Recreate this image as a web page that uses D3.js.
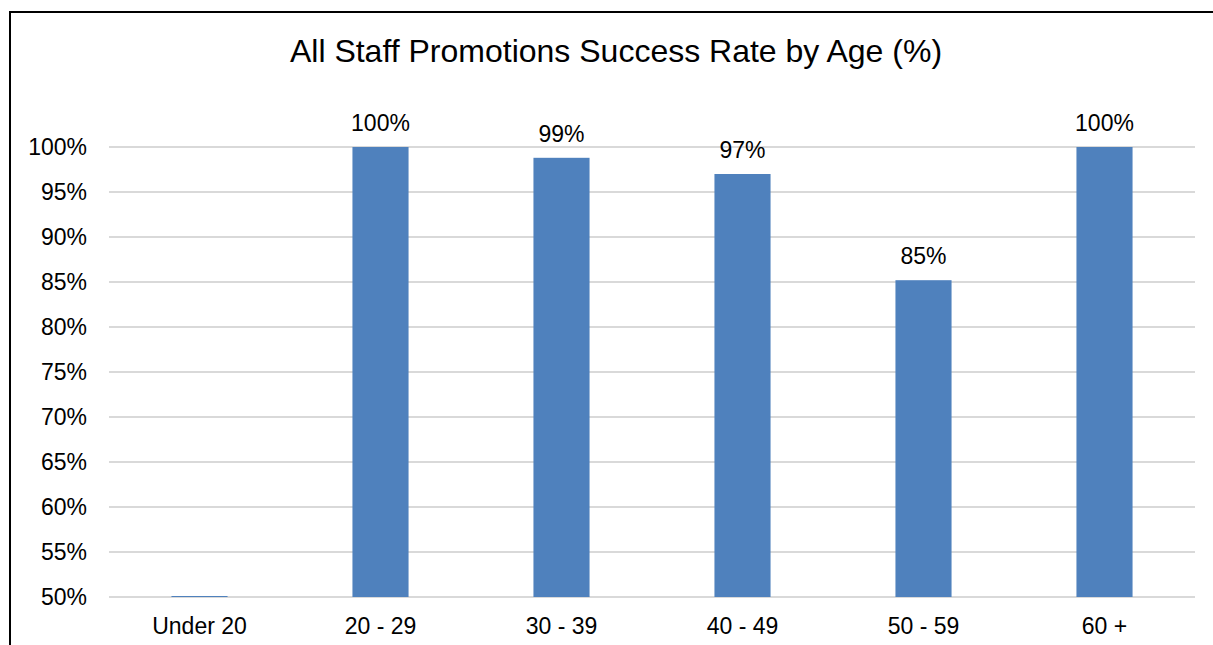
<!DOCTYPE html>
<html>
<head>
<meta charset="utf-8">
<script src="https://cdn.jsdelivr.net/npm/d3@7"></script>
<style>
html,body{margin:0;padding:0;background:#fff;}
svg{display:block;font-family:"Liberation Sans",Arial,sans-serif;}
</style>
</head>
<body>
<svg id="chart" width="1213" height="645"></svg>
<script>
const title = "All Staff Promotions Success Rate by Age (%)";
const categories = ["Under 20", "20 - 29", "30 - 39", "40 - 49", "50 - 59", "60 +"];
const values = [0, 100, 98.8, 97.0, 85.2, 100];
const labels = [null, "100%", "99%", "97%", "85%", "100%"];
const yTicks = [50, 55, 60, 65, 70, 75, 80, 85, 90, 95, 100];

const svg = d3.select("#chart");
const W = 1213, H = 645;
svg.append("rect").attr("width", W).attr("height", H).attr("fill", "#fff");
// frame (cropped)
svg.append("rect").attr("x", 10).attr("y", 12).attr("width", 1400).attr("height", 1000)
  .attr("fill", "none").attr("stroke", "#000").attr("stroke-width", 2);

const plot = {left: 109, right: 1195, top: 147, bottom: 597};
const x = d3.scaleBand().domain(categories).range([plot.left, plot.right])
  .paddingInner(0.69).paddingOuter(0.345);
const y = d3.scaleLinear().domain([50, 100]).range([plot.bottom, plot.top]).clamp(true);

svg.append("text").attr("x", 616).attr("y", 62).attr("text-anchor", "middle")
  .attr("font-size", 32).attr("fill", "#000").text(title);

// gridlines
svg.append("g").selectAll("line").data(yTicks).join("line")
  .attr("x1", plot.left).attr("x2", plot.right)
  .attr("y1", d => y(d)).attr("y2", d => y(d))
  .attr("stroke", "#d9d9d9").attr("stroke-width", 2);

// y labels
svg.append("g").selectAll("text").data(yTicks).join("text")
  .attr("x", 87).attr("y", d => y(d)).attr("dy", "0.35em")
  .attr("text-anchor", "end").attr("font-size", 23).attr("fill", "#000")
  .text(d => d + "%");

// bars
const data = categories.map((c, i) => ({c, v: values[i], l: labels[i]}));
svg.append("g").selectAll("rect").data(data).join("rect")
  .attr("x", d => x(d.c)).attr("width", x.bandwidth())
  .attr("y", d => Math.min(y(d.v), plot.bottom - 1))
  .attr("height", d => Math.max(1, plot.bottom - y(d.v)))
  .attr("fill", "#4f81bd");

// data labels
svg.append("g").selectAll("text").data(data.filter(d => d.l)).join("text")
  .attr("x", d => x(d.c) + x.bandwidth() / 2).attr("y", d => y(d.v) - 16)
  .attr("text-anchor", "middle").attr("font-size", 23).attr("fill", "#000")
  .text(d => d.l);

// x labels
svg.append("g").selectAll("text").data(categories).join("text")
  .attr("x", d => x(d) + x.bandwidth() / 2).attr("y", 634)
  .attr("text-anchor", "middle").attr("font-size", 23).attr("fill", "#000")
  .text(d => d);
</script>
</body>
</html>
